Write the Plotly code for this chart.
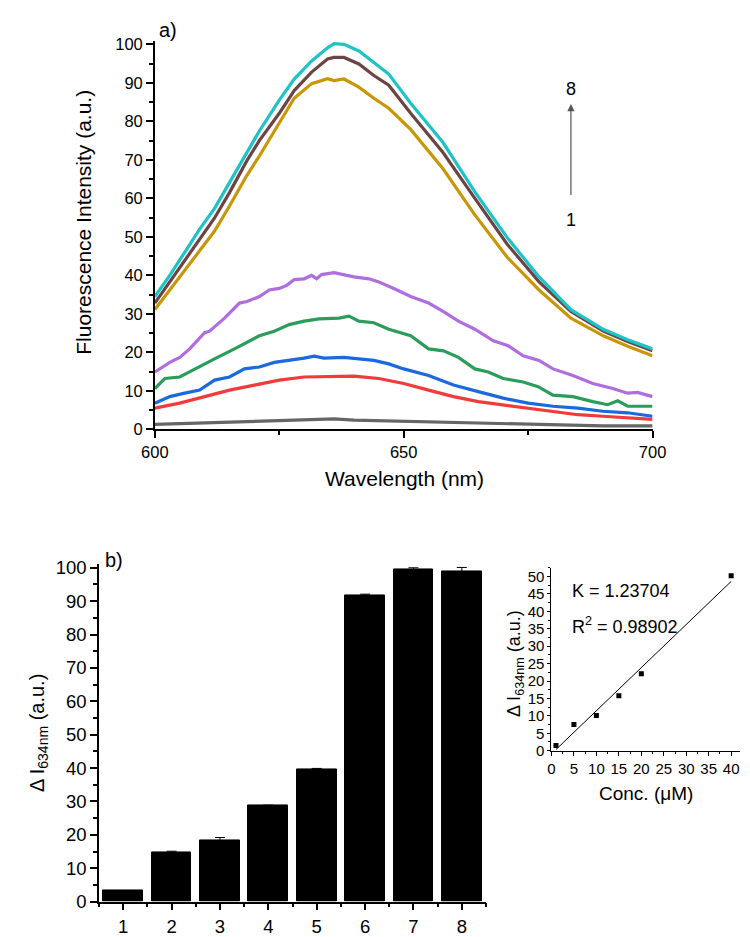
import numpy as np
import plotly.graph_objects as go

# ---------------- data: panel a) fluorescence spectra ----------------
wl_gray = [600, 610, 620, 630, 636, 640, 650, 660, 670, 680, 690, 700]
gray = [1.3, 1.7, 2.1, 2.6, 2.7, 2.4, 2.1, 1.7, 1.3, 1.0, 0.9, 0.9]

wl_red = [600, 605, 610, 615, 620, 625, 630, 635, 640, 645, 650, 655, 660, 665, 670, 675, 680, 685, 690, 695, 700]
red = [5.5, 6.8, 8.5, 10.2, 11.5, 12.8, 13.6, 13.8, 13.8, 13.2, 11.9, 10.2, 8.5, 7.2, 6.4, 5.5, 4.7, 3.8, 3.4, 3.0, 2.6]

wl_blue = [600, 603, 606, 609, 612, 615, 618, 621, 624, 627, 630, 632, 634, 638, 641, 644, 647, 650, 655, 660, 665, 670, 675, 680, 685, 690, 695, 700]
blue = [6.8, 8.5, 9.4, 10.2, 12.8, 13.6, 15.7, 16.2, 17.4, 17.9, 18.5, 19.0, 18.5, 18.7, 18.3, 17.9, 17.0, 15.7, 14.0, 11.5, 9.8, 8.1, 6.8, 6.0, 5.5, 4.7, 4.3, 3.4]

wl_green = [600, 602, 605, 608, 612, 616, 619, 621, 624, 627, 630, 633, 637, 639, 641, 644, 647, 651.4, 655, 658, 661, 664.3, 667, 670, 674, 677, 680, 684, 688, 691, 693, 695, 700]
green = [10.6, 13.2, 13.6, 15.7, 18.3, 20.9, 23.0, 24.3, 25.5, 27.2, 28.1, 28.7, 28.9, 29.4, 28.1, 27.7, 26.0, 24.3, 20.9, 20.4, 18.7, 15.7, 14.9, 13.2, 12.3, 11.1, 8.9, 8.5, 7.2, 6.4, 7.4, 6.0, 6.0]

wl_purple = [600, 603, 605, 607, 610, 611, 614, 617, 618.5, 621, 623, 625, 626.5, 628, 630, 631.5, 632.5, 633.5, 636, 640, 643, 645, 648, 651.4, 655, 658, 661, 664.3, 668, 671, 674, 677.2, 680, 684, 688, 692, 695, 697, 700]
purple = [14.9, 17.4, 18.7, 20.9, 25.1, 25.5, 28.9, 32.8, 33.2, 34.5, 36.2, 36.6, 37.4, 38.9, 39.1, 40.0, 39.1, 40.2, 40.7, 39.6, 39.1, 38.3, 36.6, 34.5, 32.8, 30.6, 28.1, 26.0, 23.0, 21.7, 19.1, 17.9, 15.7, 14.0, 11.9, 10.6, 9.4, 9.6, 8.5]

wl_top = [600, 603, 606, 609, 612, 615, 618.5, 621, 625, 628, 631.5, 634.7, 636, 638, 641, 644, 647, 651.4, 657.9, 664.3, 670.8, 677.2, 683.6, 690.1, 695, 700]
gold = [31.1, 36.2, 41.5, 46.6, 51.5, 58.0, 66.0, 71.0, 79.6, 86.0, 89.8, 91.1, 90.6, 91.0, 88.9, 86.0, 83.4, 77.9, 67.7, 55.7, 44.7, 36.2, 28.9, 24.3, 21.6, 19.1]
brown = [32.8, 38.3, 44.0, 49.5, 54.9, 61.5, 69.8, 75.0, 82.1, 88.0, 92.8, 96.2, 96.6, 96.6, 94.9, 91.9, 89.4, 82.1, 71.9, 60.0, 48.1, 38.3, 30.6, 25.5, 22.8, 20.4]
cyan = [34.5, 40.0, 46.0, 52.0, 57.4, 64.0, 72.1, 77.5, 85.5, 91.0, 95.7, 99.1, 100.2, 100.0, 98.3, 95.3, 92.3, 84.7, 74.5, 61.7, 49.8, 39.6, 31.1, 26.0, 23.3, 20.9]

# ---------------- data: panel b) bars ----------------
bar_cats = [1, 2, 3, 4, 5, 6, 7, 8]
bar_vals = [3.2, 14.8, 18.4, 28.7, 39.6, 91.8, 99.6, 99.0]
bar_err = [0.1, 0.3, 0.8, 0.2, 0.3, 0.3, 0.4, 1.1]

# ---------------- data: inset calibration ----------------
conc = [1, 5, 10, 15, 20, 40]
dI = [1.5, 7.5, 10.1, 15.8, 22.1, 50.2]

FONT = "Arial, Liberation Sans, sans-serif"
W, H = 750, 937

def px(x):
    return x / W

def py(y):
    return 1 - y / H

fig = go.Figure()

series = [
    (wl_gray, gray, "#666666"),
    (wl_red, red, "#ef3b3b"),
    (wl_blue, blue, "#1b68df"),
    (wl_green, green, "#2b9d5b"),
    (wl_purple, purple, "#b06ddf"),
    (wl_top, gold, "#c99608"),
    (wl_top, brown, "#6c4444"),
    (wl_top, cyan, "#1dc3c6"),
]
for xs, ys, c in series:
    fig.add_trace(go.Scatter(x=xs, y=ys, mode="lines", line=dict(color=c, width=3.2),
                             xaxis="x", yaxis="y", showlegend=False))

fig.add_trace(go.Bar(x=bar_cats, y=bar_vals, width=0.82,
                     marker=dict(color="black", line=dict(color="black", width=1)),
                     error_y=dict(type="data", array=bar_err, color="black", thickness=1, width=5),
                     xaxis="x2", yaxis="y2", showlegend=False))

# fitted line from the calibration points
k, b0 = np.polyfit(conc, dI, 1)
fit_x = [min(conc), max(conc)]
fit_y = [k * v + b0 for v in fit_x]
fig.add_trace(go.Scatter(x=fit_x, y=fit_y, mode="lines", line=dict(color="black", width=1),
                         xaxis="x3", yaxis="y3", showlegend=False))
fig.add_trace(go.Scatter(x=conc, y=dI, mode="markers",
                         marker=dict(symbol="square", size=5, color="black"),
                         xaxis="x3", yaxis="y3", showlegend=False))

common = dict(showline=True, linecolor="black", showgrid=False, zeroline=False,
              ticks="outside", tickcolor="black", color="black")

fig.update_layout(
    width=W, height=H,
    margin=dict(l=0, r=0, t=0, b=0),
    paper_bgcolor="white", plot_bgcolor="rgba(0,0,0,0)",
    font=dict(family=FONT, color="black"),
    bargap=0,
    xaxis=dict(**common, domain=[px(138), px(655)], anchor="y", range=[600, 700],
               tickvals=[600, 650, 700], linewidth=1.5, tickwidth=1.5, ticklen=7,
               tickfont=dict(size=16.5),
               minor=dict(tickvals=[625, 675], ticks="outside", ticklen=4, tickwidth=1.5, tickcolor="black")),
    yaxis=dict(**common, domain=[py(422), py(26)], anchor="x", range=[0, 101],
               dtick=10, tick0=0, linewidth=1.5, tickwidth=1.5, ticklen=7,
               tickfont=dict(size=16.5),
               minor=dict(dtick=5, tick0=0, ticks="outside", ticklen=4, tickwidth=1.5, tickcolor="black")),
    xaxis2=dict(**common, domain=[px(80), px(482)], anchor="y2", range=[0.5, 8.5],
                tickvals=bar_cats, linewidth=1.5, tickwidth=1.5, ticklen=7,
                tickfont=dict(size=18.5),
                minor=dict(tickvals=[0.5 + i for i in range(9)], ticks="outside", ticklen=4,
                           tickwidth=1.5, tickcolor="black")),
    yaxis2=dict(**common, domain=[py(903), py(559.6)], anchor="x2", range=[0, 101],
                dtick=10, tick0=0, linewidth=1.5, tickwidth=1.5, ticklen=7,
                tickfont=dict(size=18.5),
                minor=dict(dtick=5, tick0=0, ticks="outside", ticklen=4, tickwidth=1.5, tickcolor="black")),
    xaxis3=dict(**common, domain=[px(550), px(746)], anchor="y3", range=[0, 42],
                dtick=5, tick0=0, linewidth=1, tickwidth=1, ticklen=4,
                tickfont=dict(size=15),
                minor=dict(dtick=2.5, tick0=0, ticks="outside", ticklen=2, tickwidth=1, tickcolor="black")),
    yaxis3=dict(**common, domain=[py(749.3), py(563)], anchor="x3", range=[0, 52.5],
                dtick=5, tick0=0, linewidth=1, tickwidth=1, ticklen=3,
                tickfont=dict(size=15),
                minor=dict(dtick=2.5, tick0=0, ticks="outside", ticklen=2, tickwidth=1, tickcolor="black")),
)

ann = []
def text(x, y, s, size, angle=0, xanchor="center"):
    ann.append(dict(x=px(x), y=py(y), xref="paper", yref="paper", text=s, showarrow=False,
                    textangle=angle, xanchor=xanchor, yanchor="middle",
                    font=dict(size=size, family=FONT, color="black")))

text(152, 15, "a)", 20)
text(64, 211, "Fluorescence Intensity (a.u.)", 21, -90)
text(397, 472, "Wavelength (nm)", 21)
text(96, 555, "b)", 20)
text(17, 731, "Δ I<sub>634nm</sub> (a.u.)", 20, -90)
text(512, 660, "Δ I<sub>634nm</sub> (a.u.)", 18, -90)
text(648, 793, "Conc. (μM)", 19)
text(569, 587, "K = 1.23704", 18, xanchor="left")
text(569, 622, "R<sup>2</sup> = 0.98902", 18, xanchor="left")

# arrow 1 -> 8 in panel a)
ann.append(dict(x=683.6, y=84.5, ax=683.6, ay=60.5, xref="x", yref="y", axref="x", ayref="y",
                text="", showarrow=True, arrowhead=2, arrowsize=1.2, arrowwidth=1.2,
                arrowcolor="#555555"))
ann.append(dict(x=683.6, y=88.5, xref="x", yref="y", text="8", showarrow=False,
                font=dict(size=18, family=FONT, color="black")))
ann.append(dict(x=683.6, y=54.5, xref="x", yref="y", text="1", showarrow=False,
                font=dict(size=18, family=FONT, color="black")))

fig.update_layout(annotations=ann)
fig.write_html("out.html")
